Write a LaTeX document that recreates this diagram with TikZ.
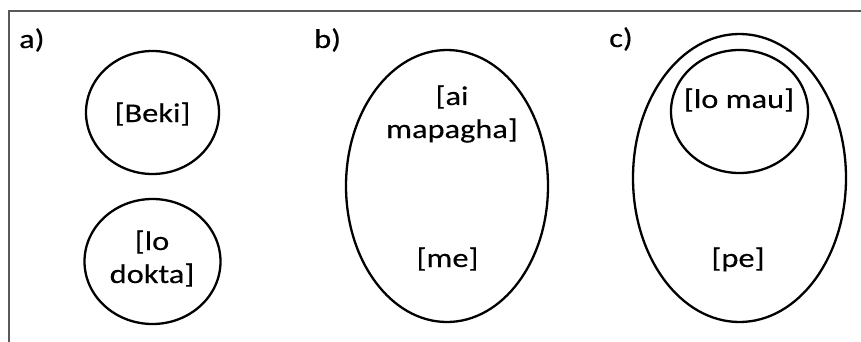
\documentclass[tikz,border=0pt]{standalone}
\usepackage{fontspec}
\setmainfont[FakeStretch=1.2,FakeBold=0.3]{Carlito}
\usetikzlibrary{shapes.geometric}
\definecolor{framegray}{HTML}{595959}
\tikzset{
  set/.style={draw=black, line width=2.3pt, ellipse, inner sep=0pt},
  lbl/.style={anchor=base, inner sep=0pt, font=\fontsize{27pt}{33pt}\selectfont, align=center},
  tag/.style={anchor=base west, inner sep=0pt, font=\fontsize{27pt}{33pt}\selectfont},
}
\begin{document}
\begin{tikzpicture}[x=1pt,y=-1pt]
\useasboundingbox (0,0) rectangle (861,342);
\fill[white] (0,0) rectangle (861,342);
\coordinate (fb) at (9,345);
\coordinate (fc) at (9,11);
\coordinate (fr) at (864,11);
\draw[framegray, line width=2pt] (fb) -- (fc) -- (fr);
% panel a
\node[tag] (ta) at (19,48) {a)};
\node[set, minimum width=133pt, minimum height=123pt] (beki) at (152.5,112.5) {};
\node[set, minimum width=136pt, minimum height=125pt] (dokta) at (152.5,261.5) {};
\node[lbl] (tbeki) at (152.5,122) {[Beki]};
\node[lbl] (tlo) at (152,250) {[lo};
\node[lbl] (tdokta) at (152,283) {dokta]};
% panel b
\node[tag] (tb) at (314,48) {b)};
\node[set, minimum width=202pt, minimum height=272pt] (me) at (447,186) {};
\node[lbl] (tai) at (452,105) {[ai};
\node[lbl] (tmap) at (452,138) {mapagha]};
\node[lbl] (tme) at (447.5,267) {[me]};
% panel c
\node[tag] (tc) at (609,47) {c)};
\node[set, minimum width=213pt, minimum height=288pt] (pe) at (739.5,178) {};
\node[set, minimum width=137pt, minimum height=123pt] (mau) at (739.5,111.5) {};
\node[lbl] (tmau) at (739,108) {[lo mau]};
\node[lbl] (tpe) at (738,267) {[pe]};
\end{tikzpicture}
\end{document}
